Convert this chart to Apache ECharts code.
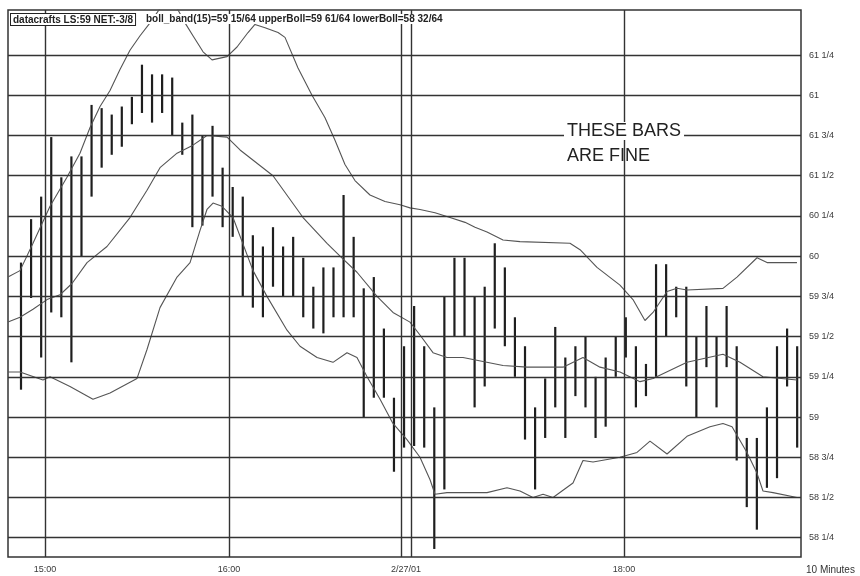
<!DOCTYPE html>
<html><head><meta charset="utf-8">
<script src="https://cdn.jsdelivr.net/npm/echarts/dist/echarts.min.js"></script>
<style>html,body{margin:0;padding:0;background:#fff}#c{width:860px;height:576px}</style>
</head><body><div id="c"></div>
<script>
// ---- data (bar index = one 10-minute bar) ----
const barHigh = [59.96,60.23,60.37,60.74,60.49,60.62,60.62,60.94,60.92,60.88,60.93,60.99,61.19,61.13,61.13,61.11,60.83,60.88,60.75,60.81,
  60.55,60.43,60.37,60.13,60.06,60.18,60.06,60.12,59.99,59.81,59.93,59.93,60.38,60.12,59.80,59.87,59.55,59.12,59.44,59.69,
  59.44,59.06,59.75,59.99,59.99,59.75,59.81,60.08,59.93,59.62,59.44,59.06,59.24,59.56,59.37,59.44,59.50,59.25,59.37,59.50,
  59.62,59.44,59.33,59.95,59.95,59.81,59.81,59.50,59.69,59.50,59.69,59.44,58.87,58.87,59.06,59.44,59.55,59.44];
const barLow = [59.17,59.74,59.37,59.65,59.62,59.34,60.00,60.37,60.55,60.63,60.68,60.82,60.89,60.83,60.89,60.75,60.63,60.18,60.19,60.37,
  60.18,60.12,59.75,59.68,59.62,59.81,59.75,59.75,59.62,59.55,59.52,59.62,59.62,59.62,59.00,59.12,59.12,58.66,58.81,58.82,
  58.81,58.18,58.55,59.50,59.50,59.06,59.19,59.55,59.44,59.25,58.86,58.55,58.87,59.06,58.87,59.13,59.06,58.87,58.94,59.25,
  59.37,59.06,59.13,59.25,59.50,59.62,59.19,59.00,59.31,59.06,59.31,58.73,58.44,58.30,58.56,58.62,59.19,58.81];
// Bollinger bands: [bar index, price]
const upperBand = [[-1.29,59.87],[-0.10,59.91],[1.19,60.08],[2.88,60.31],[4.56,60.49],[5.85,60.64],[6.85,60.80],[7.84,60.93],[8.83,61.03],
  [9.82,61.16],[10.81,61.28],[11.81,61.37],[12.80,61.45],[13.79,61.54],[14.98,61.60],[16.27,61.45],[17.06,61.37],[18.06,61.27],
  [18.95,61.22],[20.44,61.24],[21.43,61.30],[22.52,61.39],[23.21,61.44],[24.21,61.42],[25.50,61.39],[26.19,61.36],[27.48,61.17],
  [28.87,61.00],[30.16,60.86],[31.15,60.72],[32.14,60.57],[33.13,60.47],[34.62,60.38],[36.11,60.34],[37.60,60.32],[38.59,60.30],
  [39.58,60.29],[41.07,60.27],[42.56,60.24],[44.05,60.21],[45.04,60.18],[46.23,60.15],[47.82,60.10],[49.50,60.09],[54.46,60.08],
  [55.46,60.04],[57.14,59.93],[59.42,59.82],[60.71,59.73],[61.90,59.60],[62.70,59.65],[64.09,59.78],[65.08,59.80],[66.07,59.79],
  [69.64,59.80],[71.03,59.87],[73.02,59.99],[74.01,59.96],[76.98,59.96]];
const middleBand = [[-1.29,59.59],[-0.10,59.62],[1.19,59.67],[2.58,59.73],[3.87,59.76],[5.06,59.83],[6.55,59.96],[8.53,60.06],[10.81,60.24],
  [12.50,60.41],[13.79,60.55],[15.48,60.64],[17.06,60.69],[18.45,60.75],[20.44,60.74],[21.73,60.66],[25.00,60.50],[27.98,60.24],
  [30.36,60.08],[31.65,60.00],[33.33,59.90],[35.32,59.75],[36.90,59.65],[38.59,59.59],[39.58,59.51],[40.87,59.40],[42.26,59.37],
  [43.85,59.37],[47.82,59.32],[50.20,59.31],[53.77,59.31],[55.75,59.37],[57.44,59.31],[59.42,59.28],[61.41,59.22],[62.70,59.24],
  [66.07,59.34],[69.64,59.39],[71.33,59.34],[73.61,59.25],[76.98,59.23]];
const lowerBand = [[-1.29,59.28],[-0.10,59.28],[2.18,59.23],[2.88,59.25],[4.86,59.19],[7.14,59.11],[8.83,59.15],[11.51,59.24],[12.50,59.42],
  [13.79,59.68],[15.48,59.87],[16.77,59.96],[17.76,60.16],[18.45,60.29],[19.05,60.33],[19.94,60.31],[21.03,60.24],[23.02,59.91],
  [24.40,59.75],[26.39,59.54],[27.68,59.44],[29.37,59.37],[30.95,59.34],[32.34,59.40],[33.33,59.37],[34.33,59.25],[35.62,59.11],
  [36.90,58.96],[38.29,58.86],[39.58,58.75],[40.58,58.61],[41.07,58.52],[42.26,58.53],[46.23,58.53],[48.21,58.56],[49.50,58.54],
  [50.79,58.50],[51.79,58.52],[52.78,58.50],[54.76,58.59],[55.75,58.73],[56.75,58.72],[59.42,58.75],[61.11,58.78],[62.40,58.85],
  [64.09,58.77],[66.07,58.88],[68.35,58.94],[69.64,58.96],[70.54,58.94],[72.02,58.78],[73.02,58.65],[73.61,58.54],[74.60,58.53],[76.98,58.50]];
const priceTicks = [61.25,61,60.75,60.5,60.25,60,59.75,59.5,59.25,59,58.75,58.5,58.25];
const priceTickLabels = ['61 1/4','61','61 3/4','61 1/2','60 1/4','60','59 3/4','59 1/2','59 1/4','59','58 3/4','58 1/2','58 1/4'];
const timeTicks = [2.38, 20.63, 37.70, 38.69, 59.82];
const timeTickLabels = ['15:00','16:00','','','18:00'];
const dateTick = 38.2, dateTickLabel = '2/27/01';
const headerBox = 'datacrafts LS:59 NET:-3/8';
const headerText = 'boll_band(15)=59 15/64 upperBoll=59 61/64 lowerBoll=58 32/64';
const unitText = '10 Minutes';
const noteLines = ['THESE BARS', 'ARE FINE'];

// ---- chart ----
const ink = '#1e1e1e', gridInk = '#333';
const chart = echarts.init(document.getElementById('c'), null, {renderer: 'canvas'});
const hLines = priceTicks.map((v, k) => ({yAxis: v, label: {formatter: priceTickLabels[k]}}));
const vLines = timeTicks.map((v, k) => ({xAxis: v, label: {formatter: timeTickLabels[k]}}));
vLines.push({xAxis: dateTick, label: {formatter: dateTickLabel}, lineStyle: {color: 'rgba(0,0,0,0)', width: 0}});
const bandStyle = {color: '#555', width: 1.1};
const axisFont = 'Liberation Sans, Arial, sans-serif';
chart.setOption({
  animation: false,
  backgroundColor: '#fff',
  grid: {left: 8, right: 59, top: 10, bottom: 19, show: true, borderColor: gridInk, borderWidth: 1.5, backgroundColor: 'transparent'},
  xAxis: {type: 'value', min: -1.29, max: 77.38, show: false},
  yAxis: {type: 'value', min: 58.13, max: 61.53, show: false},
  series: [
    {type: 'line', data: [], silent: true,
      markLine: {silent: true, symbol: ['none', 'none'], animation: false,
        lineStyle: {color: gridInk, width: 1.4, type: 'solid'},
        label: {show: true, position: 'end', distance: 8, color: '#3a3a3a', fontSize: 9, fontFamily: axisFont},
        data: hLines}},
    {type: 'line', data: [], silent: true,
      markLine: {silent: true, symbol: ['none', 'none'], animation: false,
        lineStyle: {color: gridInk, width: 1.4, type: 'solid'},
        label: {show: true, position: 'start', distance: 8, color: '#3a3a3a', fontSize: 9, fontFamily: axisFont},
        data: vLines}},
    {type: 'line', data: upperBand, showSymbol: false, lineStyle: bandStyle, silent: true, clip: true},
    {type: 'line', data: middleBand, showSymbol: false, lineStyle: bandStyle, silent: true, clip: true},
    {type: 'line', data: lowerBand, showSymbol: false, lineStyle: bandStyle, silent: true, clip: true},
    {type: 'custom', silent: true, clip: true,
      data: barHigh.map((h, i) => [i, h, barLow[i]]),
      encode: {x: 0, y: [1, 2]},
      renderItem: (params, api) => {
        const a = api.coord([api.value(0), api.value(1)]);
        const b = api.coord([api.value(0), api.value(2)]);
        return {type: 'line', shape: {x1: a[0], y1: a[1], x2: b[0], y2: b[1]}, style: {stroke: ink, lineWidth: 2.2}};
      }}
  ],
  graphic: [
    {type: 'text', left: 10, top: 13, z: 100, style: {text: headerBox, font: 'bold 10px "Liberation Sans", Arial', fill: '#222',
      backgroundColor: '#fff', borderColor: '#222', borderWidth: 1, padding: [1, 2, 0, 2]}},
    {type: 'text', left: 146, top: 14, z: 100, style: {text: headerText, font: 'bold 10px "Liberation Sans", Arial', fill: '#222',
      backgroundColor: '#fff'}},
    {type: 'text', left: 564, top: 122, z: 100, style: {text: noteLines[0], font: '18px "Liberation Sans", Arial', fill: '#222', backgroundColor: '#fff', padding: [0, 3, 0, 3]}},
    {type: 'text', left: 567, top: 147, z: 100, style: {text: noteLines[1], font: '18px "Liberation Sans", Arial', fill: '#222'}},
    {type: 'text', left: 806, top: 565, z: 100, style: {text: unitText, font: '10px "Liberation Sans", Arial', fill: '#333'}}
  ]
});
</script></body></html>
